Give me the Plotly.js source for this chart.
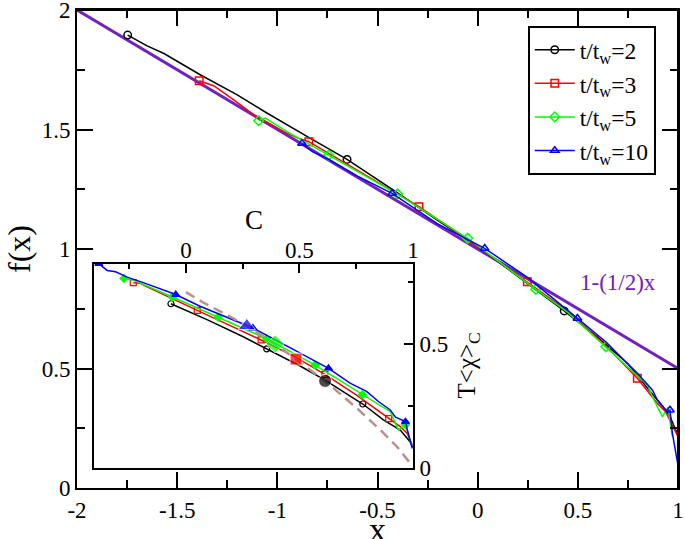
<!DOCTYPE html>
<html><head><meta charset="utf-8">
<script src="https://cdn.plot.ly/plotly-3.0.1.min.js"></script>
<style>html,body{margin:0;padding:0;background:#fff}</style>
</head><body><div id="chart" style="width:685px;height:539px"></div>
<script>
// ---------- main plot data: f(x) vs x ----------
const seriesNames = ['t/t<sub>w</sub>=2', 't/t<sub>w</sub>=3', 't/t<sub>w</sub>=5', 't/t<sub>w</sub>=10'];

const x_tw2 = [-1.747,-1.65,-1.566,-1.483,-1.383,-1.2,-1.05,-0.85,-0.652,-0.4,-0.2,0.0,0.2,0.432,0.6,0.75,0.85,0.92,0.96,1.0];
const y_tw2 = [1.895,1.85,1.818,1.777,1.728,1.645,1.568,1.47,1.375,1.235,1.12,1.01,0.885,0.741,0.63,0.52,0.415,0.345,0.30,0.22];
const mk_tw2 = [0,8,13];

const x_tw3 = [-1.39,-1.316,-1.216,-1.117,-0.967,-0.9,-0.843,-0.6,-0.293,0.0,0.248,0.45,0.64,0.797,0.897,0.938,1.0];
const y_tw3 = [1.704,1.682,1.623,1.561,1.491,1.465,1.449,1.33,1.177,1.01,0.863,0.74,0.595,0.459,0.354,0.319,0.215];
const mk_tw3 = [0,6,8,10,13];

const x_tw5 = [-1.093,-1.06,-0.95,-0.743,-0.4,-0.05,0.29,0.45,0.64,0.764,0.847,0.88,0.922,0.95,0.972];
const y_tw5 = [1.537,1.548,1.49,1.393,1.23,1.045,0.831,0.735,0.591,0.494,0.431,0.368,0.298,0.338,0.215];
const mk_tw5 = [0,3,4,5,6,8];

const x_tw10 = [-0.877,-0.825,-0.75,-0.6,-0.427,-0.2,0.035,0.25,0.498,0.639,0.755,0.789,0.872,0.897,0.947,0.96,0.972,1.0];
const y_tw10 = [1.442,1.407,1.378,1.305,1.233,1.105,1.003,0.88,0.71,0.612,0.515,0.487,0.41,0.368,0.319,0.326,0.229,0.095];
const mk_tw10 = [0,4,6,8,15];

// reference line 1-(1/2)x
const lineX = [-2, 1];
const lineY = [2, 0.5];

// ---------- inset data: T<chi>_C vs C ----------
const c_tw2 = [-0.066,0.1,0.25,0.356,0.503,0.613,0.779,0.87,0.944,0.987,0.998];
const v_tw2 = [0.663,0.596,0.531,0.481,0.412,0.355,0.259,0.195,0.154,0.107,0.085];
const imk_tw2 = [0,3,6];

const c_tw3 = [-0.232,-0.2,-0.178,-0.1,0.05,0.2,0.331,0.485,0.612,0.75,0.893,0.944,0.974,0.997];
const v_tw3 = [0.748,0.745,0.734,0.70,0.636,0.573,0.517,0.447,0.378,0.296,0.2,0.168,0.141,0.094];
const imk_tw3 = [0,4,6,8,10];

const c_tw5 = [-0.273,-0.229,-0.06,0.142,0.355,0.569,0.777,0.9,0.936,0.967,0.995];
const v_tw5 = [0.765,0.757,0.69,0.609,0.522,0.416,0.296,0.228,0.154,0.175,0.09];
const imk_tw5 = [0,2,3,4,5,6,9];

const c_tw10 = [-0.384,-0.347,-0.31,-0.259,-0.185,-0.045,0.062,0.295,0.45,0.628,0.723,0.797,0.848,0.9,0.923,0.967,0.977,0.997];
const v_tw10 = [0.824,0.797,0.792,0.77,0.747,0.70,0.653,0.565,0.49,0.403,0.343,0.309,0.269,0.235,0.206,0.188,0.148,0.08];
const imk_tw10 = [0,5,7,9,15];

const dashC = [0,0.076,0.18,0.268,0.393,0.485,0.613,0.65,0.753,0.857,0.93,0.988];
const dashV = [0.71,0.668,0.618,0.574,0.501,0.44,0.352,0.323,0.242,0.154,0.087,0.02];

const bigC = [0.268,0.393,0.485,0.613];
const bigV = [0.574,0.501,0.44,0.352];

// ticks
const xTicks = [-2,-1.5,-1,-0.5,0,0.5,1];
const xTickText = ['-2','-1.5','-1','-0.5','0','0.5','1'];
const xMinor = [-1.75,-1.25,-0.75,-0.25,0.25,0.75];
const yTicks = [0,0.5,1,1.5,2];
const yTickText = ['0','0.5','1','1.5','2'];
const yMinor = [0.25,0.75,1.25,1.75];
const cTicks = [0,0.5,1];
const cTickText = ['0','0.5','1'];
const cMinor = [-0.25,0.25,0.75];
const tTicks = [0,0.5];
const tTickText = ['0','0.5'];
const tMinor = [0.25,0.75];
const bTicks = [-1.5,-1,-0.5];
const bMinor = [-1.75,-1.25,-0.75];

const F = 'Liberation Serif';
const colors = ['#000000','#ff0000','#00ff00','#0000ff'];
const purple = '#7221bc';
const NONE = 'rgba(0,0,0,0)';

// marker colours: visible only at the marked indices
function markColors(n, mk, color) {
  const out = [];
  for (let i = 0; i < n; i++) out.push(mk.indexOf(i) >= 0 ? color : NONE);
  return out;
}

function mainTrace(x, y, mk, name, color, symbol) {
  const mc = markColors(x.length, mk, color);
  return {
    type:'scatter', mode:'lines+markers', x:x, y:y, name:name,
    xaxis:'x', yaxis:'y',
    line:{color:color, width:1.5},
    marker:{symbol:symbol, size:7.5, color:mc, line:{color:mc, width:1.5}},
    hoverinfo:'skip'
  };
}
function insetTrace(x, y, mk, color, symbol, size) {
  const mc = markColors(x.length, mk, color);
  return {
    type:'scatter', mode:'lines+markers', x:x, y:y, showlegend:false,
    xaxis:'x2', yaxis:'y2',
    line:{color:color, width:1.5},
    marker:{symbol:symbol, size:size, color:mc, line:{color:mc, width:1.2}},
    hoverinfo:'skip'
  };
}

const data = [
  {type:'scatter', mode:'lines', x:lineX, y:lineY, showlegend:false, line:{color:purple, width:3}, xaxis:'x', yaxis:'y', hoverinfo:'skip'},
  mainTrace(x_tw2, y_tw2, mk_tw2, seriesNames[0], colors[0], 'circle-open'),
  mainTrace(x_tw3, y_tw3, mk_tw3, seriesNames[1], colors[1], 'square-open'),
  mainTrace(x_tw5, y_tw5, mk_tw5, seriesNames[2], colors[2], 'diamond-open'),
  mainTrace(x_tw10, y_tw10, mk_tw10, seriesNames[3], colors[3], 'triangle-up-open'),
  insetTrace(c_tw2, v_tw2, imk_tw2, colors[0], 'circle-open', 6),
  insetTrace(c_tw3, v_tw3, imk_tw3, colors[1], 'square-open', 6),
  insetTrace(c_tw5, v_tw5, imk_tw5, colors[2], 'diamond', 6),
  insetTrace(c_tw10, v_tw10, imk_tw10, colors[3], 'triangle-up', 7),
  {type:'scatter', mode:'lines', x:dashC, y:dashV, showlegend:false, xaxis:'x2', yaxis:'y2',
   line:{color:'#bc8f8f', width:2.5, dash:'10px,6px'}, hoverinfo:'skip'},
  {type:'scatter', mode:'markers', x:bigC, y:bigV, showlegend:false, xaxis:'x2', yaxis:'y2',
   marker:{symbol:['triangle-up','diamond','square','circle'], size:[15,14,12,13], color:[colors[3],colors[2],colors[1],colors[0]]},
   hoverinfo:'skip'}
];

const tf = {family:F, size:23, color:'#000'};
const axBase = {showgrid:false, zeroline:false, showline:true, linewidth:2, linecolor:'#000',
  ticks:'inside', tickwidth:2, tickcolor:'#000', tickmode:'array', tickfont:tf, fixedrange:true,
  ticklabeloverflow:'allow'};

const inX0 = 0.0283, inX1 = 0.559, inY0 = 0.0412, inY1 = 0.4686;
const mainMinor = {tickmode:'array', ticks:'inside', ticklen:8, tickwidth:2, tickcolor:'#000'};
const insetMinor = {tickmode:'array', ticks:'inside', ticklen:5, tickwidth:2, tickcolor:'#000'};

const layout = {
  width:685, height:539,
  margin:{l:77, r:7, t:10, b:51, pad:0},
  paper_bgcolor:'#fff', plot_bgcolor:'#fff',
  font:{family:F, color:'#000'},
  showlegend:true,
  legend:{x:0.75, y:0.9665, xanchor:'left', yanchor:'top', bgcolor:'#fff', bordercolor:'#000', borderwidth:2,
          font:{family:F, size:23.5, color:'#000'}, tracegroupgap:0, itemwidth:40},
  xaxis: Object.assign({}, axBase, {domain:[0,1], range:[-2,1], anchor:'y', mirror:'ticks',
    ticklen:16, tickvals:xTicks, ticktext:xTickText,
    minor:Object.assign({tickvals:xMinor}, mainMinor)}),
  yaxis: Object.assign({}, axBase, {domain:[0,1], range:[0,2], anchor:'x', mirror:'ticks',
    ticklen:16, tickvals:yTicks, ticktext:yTickText,
    minor:Object.assign({tickvals:yMinor}, mainMinor)}),
  xaxis2: Object.assign({}, axBase, {domain:[inX0,inX1], range:[-0.405,1.0], anchor:'y2', side:'top', mirror:true,
    ticklen:9, tickvals:cTicks, ticktext:cTickText, ticklabelstandoff:-5,
    minor:Object.assign({tickvals:cMinor}, insetMinor)}),
  yaxis2: Object.assign({}, axBase, {domain:[inY0,inY1], range:[0,0.823], anchor:'x2', side:'right', mirror:true,
    ticklen:9, tickvals:tTicks, ticktext:tTickText,
    minor:Object.assign({tickvals:tMinor}, insetMinor)}),
  xaxis3: Object.assign({}, axBase, {domain:[inX0,inX1], range:[-1.915,-0.323], anchor:'y2', side:'bottom',
    showline:false, ticklen:9, tickvals:bTicks, showticklabels:false,
    minor:Object.assign({tickvals:bMinor}, insetMinor)}),
  shapes:[
    {type:'line', xref:'paper', yref:'paper', x0:0, x1:1, y0:1, y1:1, layer:'above', line:{color:'#000', width:2}},
    {type:'line', xref:'paper', yref:'paper', x0:1, x1:1, y0:0, y1:1, layer:'above', line:{color:'#000', width:2}}
  ],
  annotations:[
    {text:'1-(1/2)x', x:0.70, y:0.858, xref:'x', yref:'y', showarrow:false, xanchor:'center', yanchor:'middle',
     font:{family:F, size:23, color:purple}},
    {text:'x', x:0.5, y:-0.0875, xref:'paper', yref:'paper', showarrow:false, xanchor:'center', yanchor:'middle',
     font:{family:F, size:34, color:'#000'}},
    {text:'f(x)', x:-0.0965, y:0.5, xref:'paper', yref:'paper', showarrow:false, textangle:-90, xanchor:'center', yanchor:'middle',
     font:{family:F, size:32, color:'#000'}},
    {text:'C', x:0.2945, y:0.5607, xref:'paper', yref:'paper', showarrow:false, xanchor:'center', yanchor:'middle',
     font:{family:F, size:27, color:'#000'}},
    {text:'T&lt;χ&gt;<sub>C</sub>', x:0.652, y:0.256, xref:'paper', yref:'paper', showarrow:false, textangle:-90, xanchor:'center', yanchor:'middle',
     font:{family:F, size:25, color:'#000'}}
  ]
};

Plotly.newPlot('chart', data, layout, {displayModeBar:false, staticPlot:true});
</script>
</body></html>
